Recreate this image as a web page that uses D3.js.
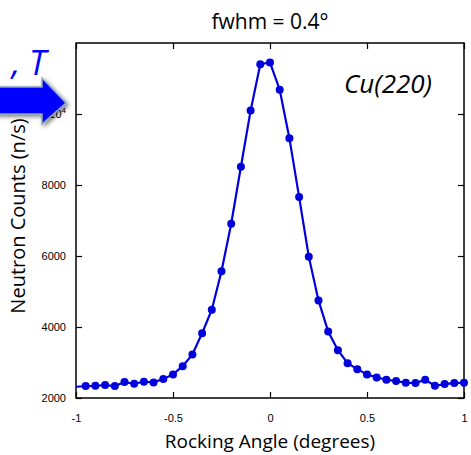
<!DOCTYPE html>
<html>
<head>
<meta charset="utf-8">
<script src="https://d3js.org/d3.v7.min.js"></script>
<style>
  body { margin: 0; background: #fff; }
</style>
</head>
<body>
<script type="text/javascript">

// rocking angle (degrees), step 0.05
var angles = d3.range(-20, 21).map(function(i) { return i / 20; });

// neutron counts (n/s)
var counts = [2317, 2337, 2345, 2365, 2337, 2449, 2402, 2458, 2440, 2533,
              2664, 2897, 3225, 3823, 4487, 5570, 6907, 8514, 10096, 11403,
              11450, 10685, 9319, 7665, 5982, 4748, 3870, 3346, 2981, 2813,
              2664, 2580, 2514, 2477, 2430, 2421, 2514, 2345, 2393, 2421, 2430];

var xTicks = [-1, -0.5, 0, 0.5, 1];
var xTickLabels = ["-1", "-0.5", "0", "0.5", "1"];
var yTicks = [2000, 4000, 6000, 8000, 10000];

var width = 471, height = 455;
var margin = {top: 43, right: 7, bottom: 57, left: 76};
var lineColor = "#0000dd";

var svg = d3.select("body").append("svg")
    .attr("width", width)
    .attr("height", height);

var x = d3.scaleLinear().domain([-1, 1]).range([margin.left, width - margin.right]);
var y = d3.scaleLinear().domain([2000, 12000]).range([height - margin.bottom, margin.top]);

var data = angles.map(function(a, i) { return {a: a, c: counts[i]}; });

// frame
svg.append("rect")
    .attr("x", x(-1)).attr("y", y(12000))
    .attr("width", x(1) - x(-1)).attr("height", y(2000) - y(12000))
    .attr("fill", "none").attr("stroke", "#000").attr("stroke-width", 1.5);

// axes, ticks pointing inward
function styleAxis(g) {
  g.select(".domain").remove();
  g.selectAll(".tick line").attr("stroke", "#000").attr("stroke-width", 1.2);
  g.selectAll(".tick text").attr("font-family", "Liberation Sans, Arial, sans-serif")
    .attr("font-size", 11).attr("fill", "#000");
}

svg.append("g")
    .attr("transform", "translate(0," + y(2000) + ")")
    .call(d3.axisBottom(x).tickValues(xTicks).tickSize(-6).tickPadding(16)
      .tickFormat(function(d, i) { return xTickLabels[i]; }))
    .call(styleAxis);

svg.append("g")
    .attr("transform", "translate(0," + y(12000) + ")")
    .call(d3.axisTop(x).tickValues(xTicks).tickSize(-6).tickFormat(""))
    .call(styleAxis);

svg.append("g")
    .attr("transform", "translate(" + x(-1) + ",0)")
    .call(d3.axisLeft(y).tickValues(yTicks).tickSize(-6).tickPadding(10)
      .tickFormat(function(d) { return d === 10000 ? "" : d; }))
    .call(styleAxis);

// 1 10^4 label
var tenK = svg.append("text")
    .attr("x", x(-1) - 10).attr("y", y(10000) + 4)
    .attr("text-anchor", "end")
    .attr("font-family", "Liberation Sans, Arial, sans-serif")
    .attr("font-size", 11);
tenK.append("tspan").text("1 10");
tenK.append("tspan").attr("font-size", 8).attr("dy", -5).text("4");

svg.append("g")
    .attr("transform", "translate(" + x(1) + ",0)")
    .call(d3.axisRight(y).tickValues(yTicks).tickSize(-6).tickFormat(""))
    .call(styleAxis);

// data line and points
svg.append("path")
    .datum(data)
    .attr("fill", "none")
    .attr("stroke", lineColor)
    .attr("stroke-width", 2.2)
    .attr("d", d3.line().x(function(d) { return x(d.a); }).y(function(d) { return y(d.c); }));

svg.append("g").selectAll("circle")
    .data(data.slice(1))
  .enter().append("circle")
    .attr("cx", function(d) { return x(d.a); })
    .attr("cy", function(d) { return y(d.c); })
    .attr("r", 4)
    .attr("fill", lineColor);

// labels
svg.append("text")
    .attr("x", x(0)).attr("y", 29)
    .attr("text-anchor", "middle")
    .attr("font-family", "Open Sans, sans-serif")
    .attr("font-size", 21)
    .text("fwhm = 0.4°");

svg.append("text")
    .attr("x", 432).attr("y", 93)
    .attr("text-anchor", "end")
    .attr("font-family", "Open Sans, sans-serif")
    .attr("font-style", "italic")
    .attr("font-size", 26)
    .text("Cu(220)");

svg.append("text")
    .attr("x", x(0)).attr("y", 448)
    .attr("text-anchor", "middle")
    .attr("font-family", "Open Sans, sans-serif")
    .attr("font-size", 19)
    .text("Rocking Angle (degrees)");

svg.append("text")
    .attr("transform", "translate(25,216) rotate(-90)")
    .attr("text-anchor", "middle")
    .attr("font-family", "Open Sans, sans-serif")
    .attr("font-size", 20)
    .text("Neutron Counts (n/s)");

// the blue arrow coming in from the left
var defs = svg.append("defs");
var f = defs.append("filter").attr("id", "shadow").attr("x", "-20%").attr("y", "-20%")
    .attr("width", "150%").attr("height", "150%");
f.append("feDropShadow").attr("dx", 2).attr("dy", 2).attr("stdDeviation", 2)
    .attr("flood-color", "#000").attr("flood-opacity", 0.5);

var arrowPts = [[-5, 87], [42, 87], [42, 78], [66, 103], [42, 124], [42, 114], [-5, 114]];
svg.append("path")
    .attr("d", d3.line()(arrowPts) + "Z")
    .attr("fill", "#0000ff")
    .attr("stroke", "#8fa6bd")
    .attr("stroke-width", 1.5)
    .attr("filter", "url(#shadow)");

svg.append("text")
    .attr("x", 46).attr("y", 75)
    .attr("text-anchor", "end")
    .attr("font-family", "Open Sans, sans-serif")
    .attr("font-style", "italic")
    .attr("font-size", 34)
    .attr("fill", "#0000ff")
    .text(", T");

</script>
</body>
</html>
